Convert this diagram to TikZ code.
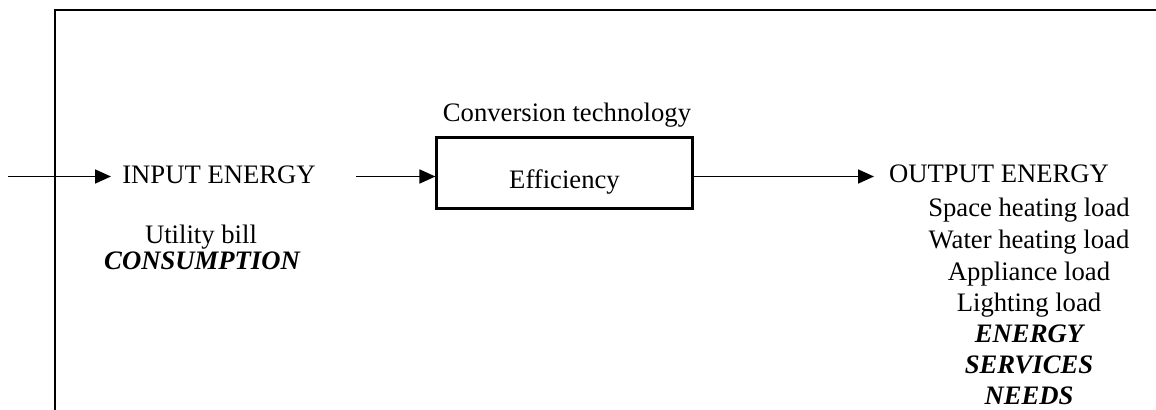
\documentclass[tikz,border=0pt]{standalone}
\usepackage{fontspec}
\setmainfont{Liberation Serif}
\usetikzlibrary{arrows.meta}
\begin{document}
\begin{tikzpicture}[x=0.75pt,y=-0.75pt,
  txt/.style={anchor=base,inner sep=0pt,font=\fontsize{20}{24}\selectfont},
  bi/.style={txt,font=\fontsize{20}{24}\selectfont\bfseries\itshape},
  conn/.style={line width=1.3pt,-{Triangle[length=12pt,width=10.5pt]}},
  boxstyle/.style={draw,line width=1.6pt,minimum width=256pt*0.75,minimum height=71pt*0.75,inner sep=0pt}]
\useasboundingbox (0,0) rectangle (1156,410);
% frame
\draw[line width=1.8pt] (55,411) -- (55,10) -- (1157,10);
% nodes
\node[txt] (input) at (219,183) {INPUT ENERGY};
\node[txt] (bill) at (201,243) {Utility bill};
\node[bi] (cons) at (202,269) {CONSUMPTION};
\node[txt] (conv) at (567,122) {Conversion technology};
\node[boxstyle] (box) at (564.5,173) {};
\node[txt] (eff) at (564.5,188) {Efficiency};
\node[txt] (output) at (999,182) {OUTPUT ENERGY};
\node[txt] (l1) at (1029,216) {Space heating load};
\node[txt] (l2) at (1029,248) {Water heating load};
\node[txt] (l3) at (1029,280) {Appliance load};
\node[txt] (l4) at (1029,311) {Lighting load};
\node[bi] (l5) at (1029,342) {ENERGY};
\node[bi] (l6) at (1029,373) {SERVICES};
\node[bi] (l7) at (1029,404) {NEEDS};
% connectors
\coordinate (a1s) at (8,176.5);
\coordinate (a1e) at (111,176.5);
\coordinate (a2s) at (356,176.5);
\coordinate (a3e) at (874,176.5);
\draw[conn] (a1s) -- (a1e);
\draw[conn] (a2s) -- (a2s -| box.west);
\draw[conn] (box.east |- a3e) -- (a3e);
\end{tikzpicture}
\end{document}
